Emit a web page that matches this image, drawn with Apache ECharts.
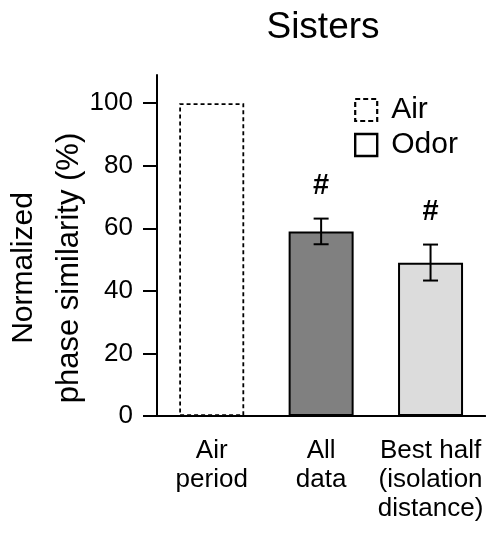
<!DOCTYPE html>
<html>
<head>
<meta charset="utf-8">
<script src="https://cdn.jsdelivr.net/npm/echarts@6/dist/echarts.min.js"></script>
<style>html,body{margin:0;padding:0;background:#fff;}#c{width:486px;height:535px;}</style>
</head>
<body>
<div id="c"></div>
<script>
const categories = ['Air\nperiod', 'All\ndata', 'Best half\n(isolation\ndistance)'];
const airValues = [100, null, null];
const odorValues = [null, 59, 49];
const errLow = [null, 54.9, 43.3];
const errHigh = [null, 63.1, 54.8];
const sigMarks = ['', '#', '#'];
const yTicks = [0, 20, 40, 60, 80, 100];
const yMax = 109;

const FONT = 'Liberation Sans, Arial, Helvetica, sans-serif';
const odorFill = ['#ffffff', '#808080', '#dcdcdc'];

const errData = [];
categories.forEach((c, i) => { if (errLow[i] != null) errData.push([i, errLow[i], errHigh[i]]); });

const chart = echarts.init(document.getElementById('c'));
chart.setOption({
  animation: false,
  backgroundColor: '#fff',
  textStyle: { fontFamily: FONT },
  title: {
    text: 'Sisters', left: 318, top: 4, textAlign: 'center',
    textStyle: { fontFamily: FONT, fontSize: 37, fontWeight: 'normal', color: '#000' }
  },
  legend: {
    orient: 'vertical', left: 354, top: 95, padding: 0, itemWidth: 22, itemHeight: 22, itemGap: 5, itemTextGap: 14,
    textStyle: { fontFamily: FONT, fontSize: 30, color: '#000', padding: [0, 0, 0, 9] },
    data: [
      { name: 'Air', icon: 'rect', itemStyle: { color: '#fff', borderColor: '#000', borderWidth: 2.2, borderType: [5, 3] } },
      { name: 'Odor', icon: 'rect', itemStyle: { color: '#fff', borderColor: '#000', borderWidth: 2.4, borderType: 'solid' } }
    ],
    selectedMode: false
  },
  grid: { left: 157, right: -1, top: 75, bottom: 119, containLabel: false },
  xAxis: {
    type: 'category', data: categories,
    axisLine: { lineStyle: { color: '#000', width: 2 } },
    axisTick: { alignWithLabel: true, length: 10, lineStyle: { color: '#000', width: 2 } },
    axisLabel: { margin: 20, fontSize: 26, lineHeight: 29, color: '#000', fontFamily: FONT, interval: 0 }
  },
  yAxis: {
    type: 'value', min: 0, max: yMax, interval: 20,
    axisLine: { show: true, lineStyle: { color: '#000', width: 2 } },
    axisTick: { show: true, length: 14, customValues: yTicks, lineStyle: { color: '#000', width: 2 } },
    axisLabel: { margin: 24, fontSize: 26, color: '#000', fontFamily: FONT, customValues: yTicks },
    splitLine: { show: false }
  },
  graphic: [
    { type: 'text', x: 24, y: 268, rotation: Math.PI / 2,
      style: { text: 'Normalized', fontSize: 30, fontFamily: FONT, fill: '#000', textAlign: 'center', textVerticalAlign: 'middle' } },
    { type: 'text', x: 69, y: 268, rotation: Math.PI / 2,
      style: { text: 'phase similarity (%)', fontSize: 31, fontFamily: FONT, fill: '#000', textAlign: 'center', textVerticalAlign: 'middle' } }
  ],
  series: [
    {
      name: 'Air', type: 'bar', barWidth: 65, barGap: '-100%',
      data: airValues.map(v => v == null ? '-' : v),
      itemStyle: { color: '#fff', borderColor: '#000', borderWidth: 1.8, borderType: [4, 3] }
    },
    {
      name: 'Odor', type: 'bar', barWidth: 65,
      data: odorValues.map(v => v == null ? '-' : v),
      itemStyle: { color: p => odorFill[p.dataIndex], borderColor: '#000', borderWidth: 2 }
    },
    {
      name: 'err', type: 'custom', z: 10, clip: false,
      data: errData,
      renderItem: function (params, api) {
        const x = api.value(0);
        const lo = api.coord([x, api.value(1)]);
        const hi = api.coord([x, api.value(2)]);
        const cap = 7.5;
        const ls = { stroke: '#000', lineWidth: 2 };
        return {
          type: 'group',
          children: [
            { type: 'line', shape: { x1: lo[0], y1: lo[1], x2: hi[0], y2: hi[1] }, style: ls },
            { type: 'line', shape: { x1: lo[0] - cap, y1: lo[1], x2: lo[0] + cap, y2: lo[1] }, style: ls },
            { type: 'line', shape: { x1: hi[0] - cap, y1: hi[1], x2: hi[0] + cap, y2: hi[1] }, style: ls },
            { type: 'text', style: { text: sigMarks[x], x: hi[0], y: hi[1] - 33, textAlign: 'center', textVerticalAlign: 'middle', fontSize: 29, fontWeight: 'bold', fontFamily: FONT, fill: '#000' } }
          ]
        };
      }
    }
  ]
});
</script>
</body>
</html>
